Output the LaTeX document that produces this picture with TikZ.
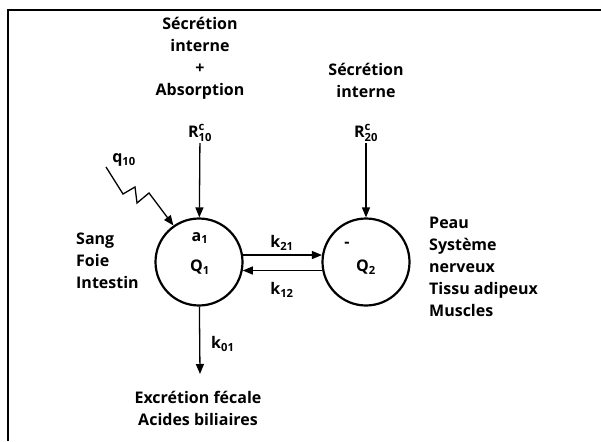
\documentclass[tikz,border=0pt]{standalone}
\usepackage{amsmath}
\usepackage{fontspec}
\setmainfont{Open Sans}
\usepackage{tikz}
\usetikzlibrary{arrows.meta, positioning, calc}

\newcommand{\rsc}[1]{$\text{R}^{\text{c}}_{\text{#1}}$}

\begin{document}
\begin{tikzpicture}[x=1pt, y=-1pt, >={Triangle[length=10pt, width=8pt]},
    txt/.style={font=\fontsize{16}{22}\selectfont\bfseries, inner sep=1pt},
    bloc/.style={txt, align=left, anchor=west},
    comp/.style={draw, circle, line width=2.2pt, minimum size=87pt, inner sep=0pt},
    flux/.style={->, line width=1.3pt}]

  \useasboundingbox (0,0) rectangle (601,441);

  % Cadre
  \draw[line width=1.4pt] (8,441) -- (8,10) -- (601,10);

  % Compartiments
  \node[comp] (c1) at (199,262) {};
  \node[comp] (c2) at (366,262) {};
  \node[txt] (a1) at (200,238) {a\textsubscript{1}};
  \node[txt] (q1) at (200,267) {Q\textsubscript{1}};
  \node[txt] (tiret) at (347,245) {-};
  \node[txt] (q2) at (366,267) {Q\textsubscript{2}};

  % Entrees
  \node[txt, align=center] (src1) at (200,58) {Sécrétion\\interne\\+\\Absorption};
  \node[txt, align=center] (src2) at (366,80.5) {Sécrétion\\interne};
  \node[txt] (r10) at (200,133) {\rsc{10}};
  \node[txt] (r20) at (366,133) {\rsc{20}};
  \draw[flux] (r10) -- (c1);
  \draw[flux] (r20) -- (c2);

  \node[txt] (q10) at (124,160) {q\textsubscript{10}};
  \coordinate (zz) at (106,167);
  \draw[flux] (zz) -- (123,194) -- (135,187) -- (137,203) -- (149,193) -- (c1.125);

  % Echanges
  \draw[flux] (c1.9) -- (c2.171);
  \draw[flux] (c2.191) -- (c1.-11);
  \node[txt] (k21) at (282,243) {k\textsubscript{21}};
  \node[txt] (k12) at (282,290) {k\textsubscript{12}};

  % Sortie
  \coordinate (sortie) at (200,374);
  \draw[flux] (c1) -- (sortie);
  \node[txt, anchor=west] (k01) at (210,344) {k\textsubscript{01}};
  \node[txt, align=center] (excr) at (198,408.5) {Excrétion fécale\\Acides biliaires};

  % Tissus
  \node[bloc] (tis1) at (75,261) {Sang\\Foie\\Intestin};
  \node[bloc] (tis2) at (428,266.5) {Peau\\Système\\nerveux\\Tissu adipeux\\Muscles};

\end{tikzpicture}
\end{document}
